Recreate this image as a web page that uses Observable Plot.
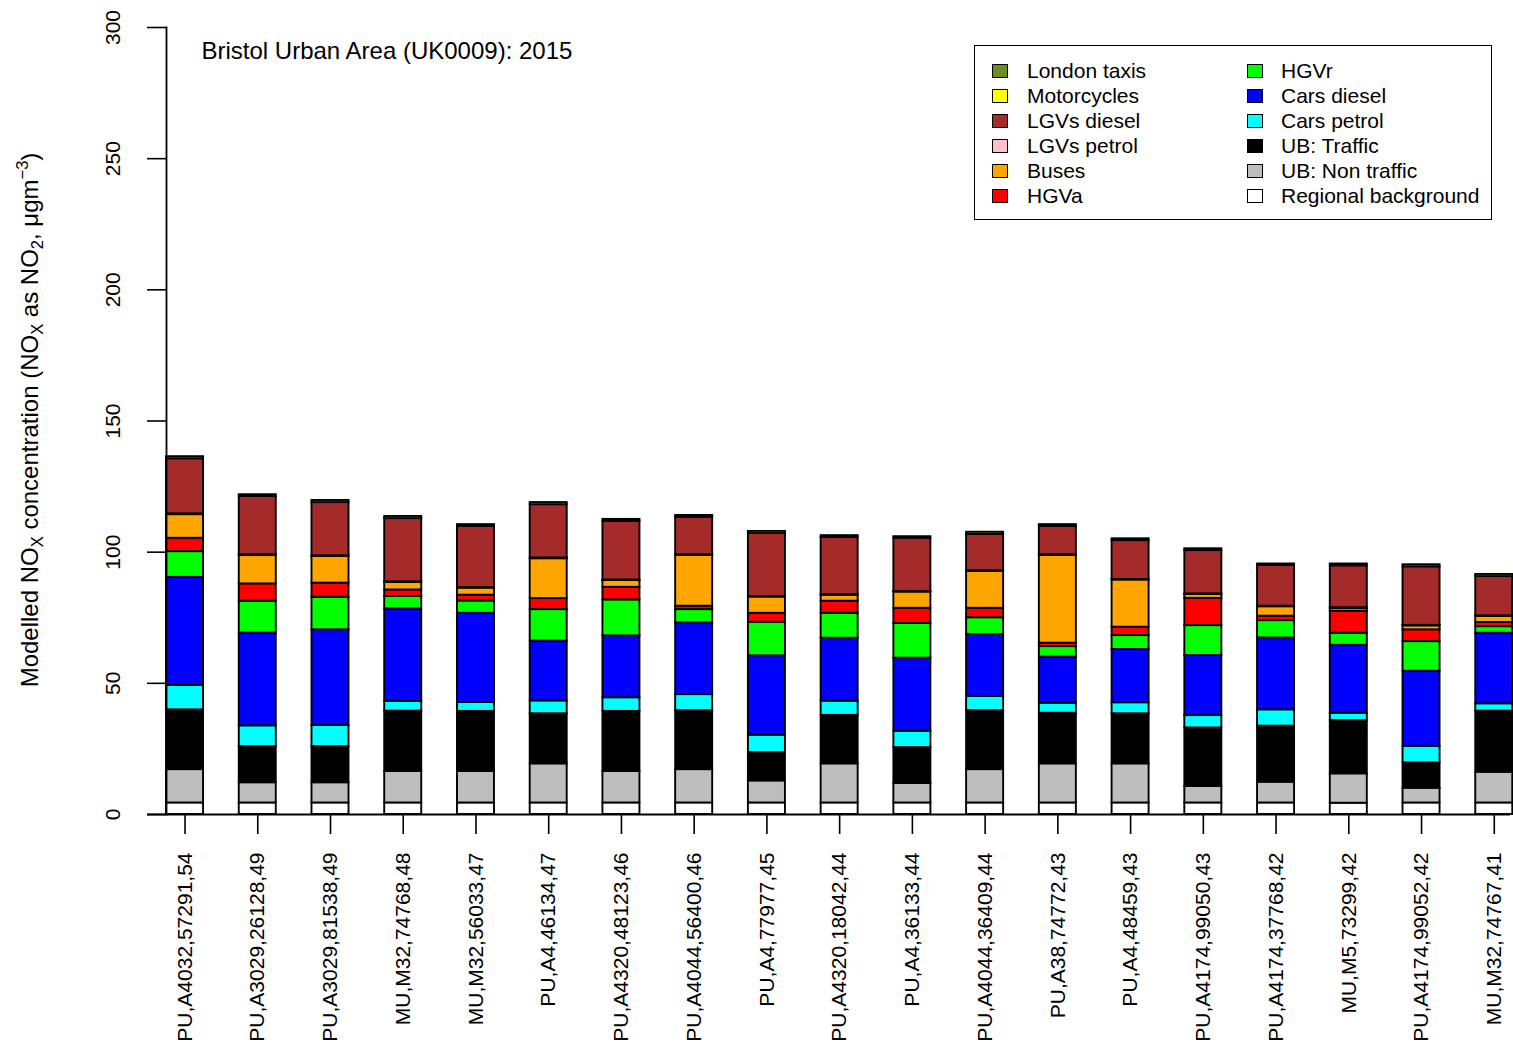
<!DOCTYPE html>
<html>
<head>
<meta charset="utf-8">
<script src="https://cdn.jsdelivr.net/npm/d3@7"></script>
<script src="https://cdn.jsdelivr.net/npm/@observablehq/plot@0.6"></script>
<style>
  html, body { margin: 0; padding: 0; background: #fff; }
  #wrap { position: relative; width: 1513px; height: 1047px; font-family: "Liberation Sans", Arial, Helvetica, sans-serif; }
  #legend { position: absolute; left: 974px; top: 45px; width: 518px; height: 175px; box-sizing: border-box; border: 1.6px solid #000; background: #fff; }
  .li { position: absolute; font-size: 21px; line-height: 25px; height: 25px; white-space: nowrap; color: #000; }
  .sw { position: absolute; width: 16px; height: 14px; box-sizing: border-box; border: 1.4px solid #000; }
</style>
</head>
<body>
<div id="wrap"></div>
<script>
// ---- data ----
const sites = ["PU,A4032,57291,54","PU,A3029,26128,49","PU,A3029,81538,49","MU,M32,74768,48","MU,M32,56033,47","PU,A4,46134,47","PU,A4320,48123,46","PU,A4044,56400,46","PU,A4,77977,45","PU,A4320,18042,44","PU,A4,36133,44","PU,A4044,36409,44","PU,A38,74772,43","PU,A4,48459,43","PU,A4174,99050,43","PU,A4174,37768,42","MU,M5,73299,42","PU,A4174,99052,42","MU,M32,74767,41"];

const regionalBackground = [4.4,4.4,4.4,4.4,4.4,4.4,4.4,4.4,4.4,4.4,4.4,4.4,4.4,4.4,4.4,4.4,4.3,4.4,4.4];
const ubNonTraffic = [12.7,7.7,7.7,12.0,12.0,14.9,12.0,12.7,8.4,14.9,7.4,12.7,14.9,14.9,6.3,7.9,11.2,5.6,11.7];
const ubTraffic = [22.8,13.8,13.8,23.0,22.9,19.1,22.9,22.5,10.8,18.5,13.7,22.5,19.3,19.1,22.3,21.4,20.3,9.7,23.3];
const carsPetrol = [9.3,7.9,8.0,3.7,3.4,4.9,5.2,6.1,6.6,5.4,6.2,5.4,3.8,4.2,4.7,6.2,2.8,6.3,2.8];
const carsDiesel = [41.2,35.4,36.5,35.3,34.0,22.8,23.6,27.4,30.3,24.0,27.9,23.6,17.6,20.3,22.9,27.4,25.9,28.6,26.9];
const hgvR = [9.8,12.1,12.4,4.7,4.7,12.0,13.7,5.0,12.8,9.5,13.2,6.4,4.0,5.3,11.4,6.6,4.6,11.3,2.5];
const hgvA = [5.1,6.6,5.4,2.5,2.2,4.2,4.8,1.3,3.4,4.6,5.8,3.6,1.3,3.2,10.4,1.7,8.4,4.5,1.6];
const buses = [9.0,10.8,10.2,2.9,2.7,15.2,2.6,19.4,6.2,2.3,6.2,14.1,33.5,18.0,1.5,3.6,1.0,1.5,2.3];
const lgvsPetrol = [0.3,0.3,0.2,0.2,0.2,0.3,0.2,0.2,0.2,0.2,0.2,0.2,0.2,0.2,0.2,0.2,0.3,0.2,0.2];
const lgvsDiesel = [21.0,22.2,20.3,24.1,23.3,20.3,22.4,14.3,24.0,21.8,20.3,13.9,10.8,14.8,16.5,15.5,16.0,22.3,15.0];
const motorcycles = [0.8,0.7,0.8,0.8,0.7,0.8,0.7,0.7,0.8,0.7,0.6,0.8,0.7,0.7,0.7,0.6,0.7,0.8,0.8];
const londonTaxis = [0,0,0,0,0,0,0,0,0,0,0,0,0,0,0,0,0,0,0];

// stacking order, bottom to top
const seriesNames = ["Regional background","UB: Non traffic","UB: Traffic","Cars petrol","Cars diesel","HGVr","HGVa","Buses","LGVs petrol","LGVs diesel","Motorcycles","London taxis"];
const seriesValues = [regionalBackground, ubNonTraffic, ubTraffic, carsPetrol, carsDiesel, hgvR, hgvA, buses, lgvsPetrol, lgvsDiesel, motorcycles, londonTaxis];
const seriesColors = ["#FFFFFF","#BEBEBE","#000000","#00FFFF","#0000FF","#00FF00","#FF0000","#FFA500","#FFC0CB","#A52A2A","#FFFF00","#6B8E23"];

const yTicks = [0, 50, 100, 150, 200, 250, 300];
const titleText = "Bristol Urban Area (UK0009): 2015";

// legend order (column-wise)
const legendCol1 = ["London taxis","Motorcycles","LGVs diesel","LGVs petrol","Buses","HGVa"];
const legendCol2 = ["HGVr","Cars diesel","Cars petrol","UB: Traffic","UB: Non traffic","Regional background"];

// ---- table ----
const rows = [];
seriesNames.forEach((name, s) => {
  sites.forEach((site, i) => rows.push({site, source: name, value: seriesValues[s][i]}));
});

const font = "Liberation Sans, Arial, Helvetica, sans-serif";

const chart = Plot.plot({
  width: 1513,
  height: 1047,
  marginTop: 27,
  marginBottom: 233,
  marginLeft: 147,
  marginRight: 3,
  style: {fontFamily: font, background: "#fff", color: "#000"},
  x: {type: "band", domain: sites, range: [130.3, 1548], padding: 0.491, round: false, label: null},
  y: {domain: [0, 300], label: null},
  color: {domain: seriesNames, range: seriesColors},
  marks: [
    Plot.barY(rows, {x: "site", y: "value", z: "source", fill: "source", stroke: "#000", strokeWidth: 1.9, order: null}),
    Plot.ruleY([0], {stroke: "#000", strokeWidth: 1.8}),
    Plot.frame({anchor: "left", dx: 19, stroke: "#000", strokeWidth: 1.8}),
    Plot.axisY({ticks: yTicks, tickSize: 19, dx: 19, tickFormat: () => "", strokeWidth: 1.6, label: null}),
    Plot.text(yTicks, {y: d => d, text: d => String(d), frameAnchor: "left", dx: -34, rotate: -90, textAnchor: "middle", lineAnchor: "middle", fontSize: 21}),
    Plot.axisX({tickSize: 20, tickPadding: 18, tickRotate: -90, fontSize: 21, strokeWidth: 1.6, label: null}),
    Plot.text([titleText], {frameAnchor: "top-left", dx: 54, dy: 14, textAnchor: "start", lineAnchor: "top", fontSize: 24})
  ]
});

const wrap = document.getElementById("wrap");
wrap.appendChild(chart);

// y-axis label with subscripts/superscript
const svg = d3.select(chart);
const yl = svg.append("text")
  .attr("transform", "translate(38,420) rotate(-90)")
  .attr("text-anchor", "middle")
  .attr("font-size", 24)
  .attr("font-family", font)
  .attr("fill", "#000");
yl.append("tspan").text("Modelled NO");
yl.append("tspan").attr("font-size", 16.5).attr("dy", 5).text("X");
yl.append("tspan").attr("dy", -5).text(" concentration (NO");
yl.append("tspan").attr("font-size", 16.5).attr("dy", 5).text("X");
yl.append("tspan").attr("dy", -5).text(" as NO");
yl.append("tspan").attr("font-size", 16.5).attr("dy", 5).text("2");
yl.append("tspan").attr("dy", -5).text(", \u03BCgm");
yl.append("tspan").attr("font-size", 16.5).attr("dy", -10).text("\u22123");
yl.append("tspan").attr("dy", 10).text(")");

// legend
const colorOf = name => seriesColors[seriesNames.indexOf(name)];
const legend = document.createElement("div");
legend.id = "legend";
const addCol = (names, swLeft, txtLeft) => {
  names.forEach((name, r) => {
    const top = 11.5 + r * 25;
    const sw = document.createElement("div");
    sw.className = "sw";
    sw.style.left = swLeft + "px";
    sw.style.top = (top + 6.5) + "px";
    sw.style.background = colorOf(name);
    legend.appendChild(sw);
    const t = document.createElement("div");
    t.className = "li";
    t.style.left = txtLeft + "px";
    t.style.top = top + "px";
    t.textContent = name;
    legend.appendChild(t);
  });
};
addCol(legendCol1, 17, 52);
addCol(legendCol2, 272, 306);
wrap.appendChild(legend);
</script>
</body>
</html>
